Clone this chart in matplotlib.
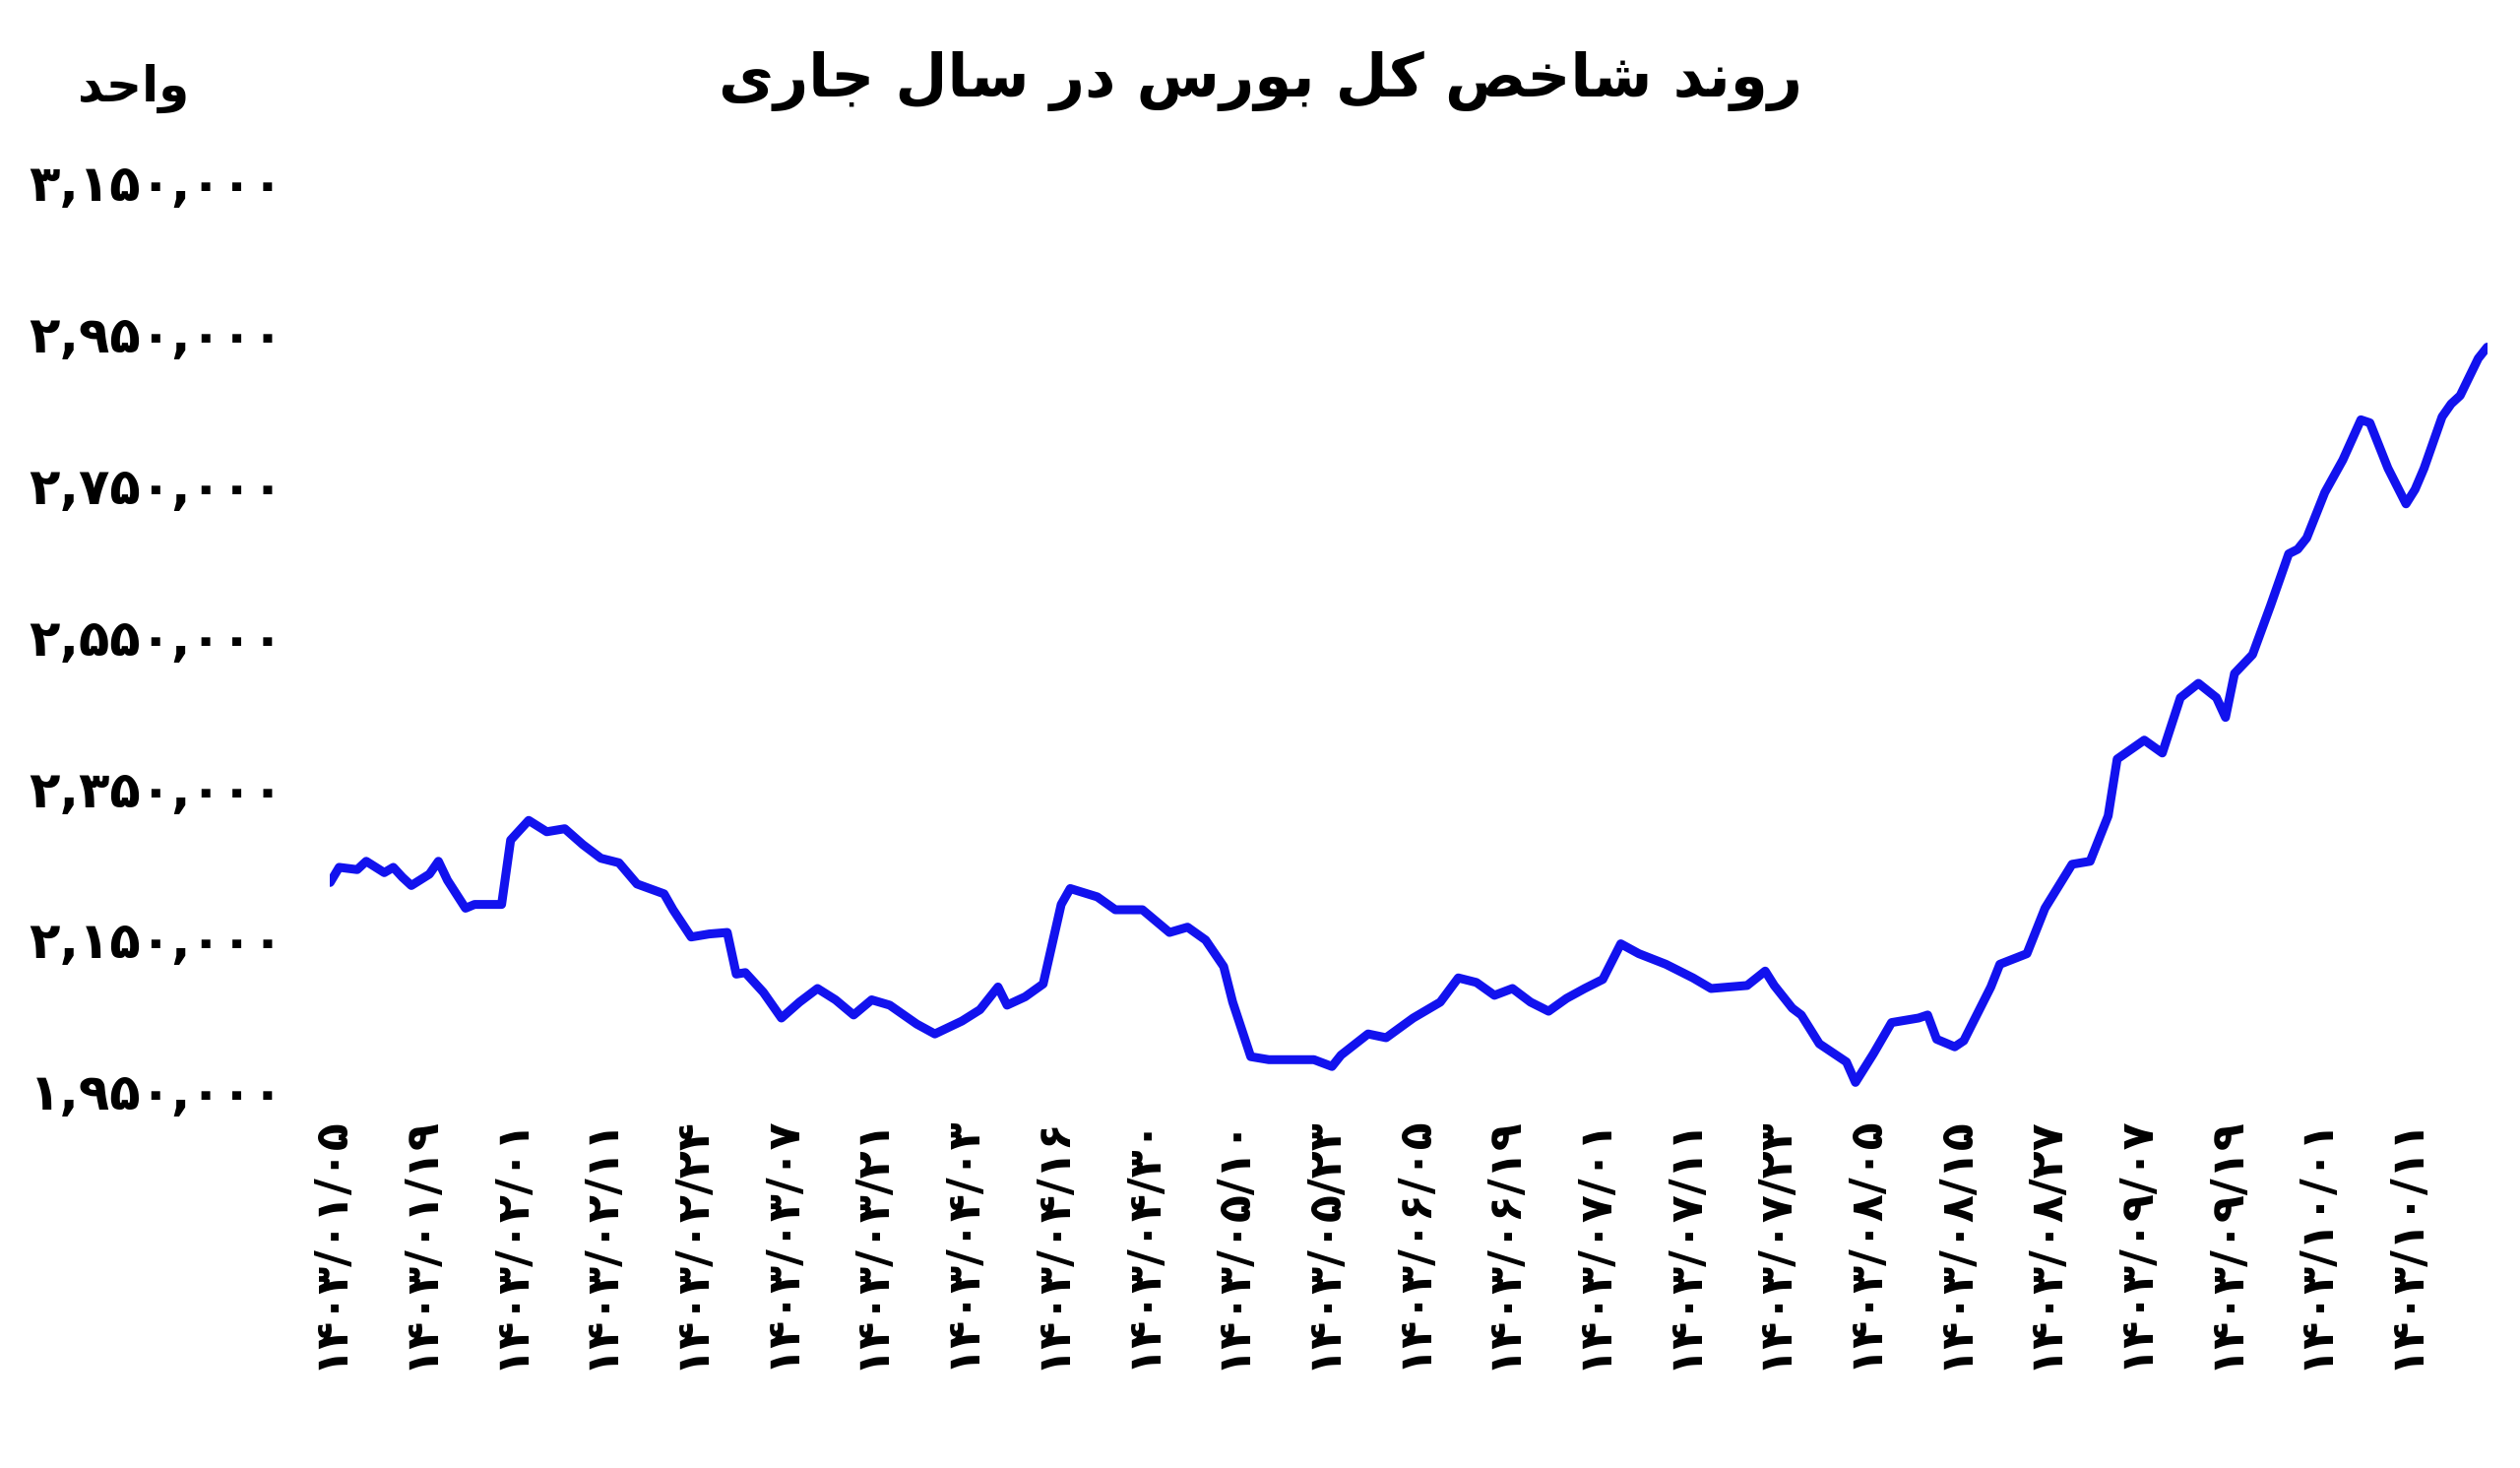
import matplotlib
matplotlib.use("Agg")
import matplotlib.pyplot as plt

plt.rcParams['font.family'] = ['DejaVu Sans', 'Noto Sans']

days = [0,1,3,4,6,7,8,9,11,12,13,15,16,17,19,20,22,24,26,28,30,32,34,37,38,40,42,44,45,46,48,50,52,54,56,58,60,62,65,67,70,72,74,75,77,79,81,82,85,87,90,93,95,97,99,100,102,104,107,109,111,112,115,117,120,123,125,127,129,131,133,135,137,139,141,143,145,148,151,153,157,159,160,162,163,165,168,169,171,173,176,177,178,180,181,184,185,188,190,193,195,197,198,201,203,205,207,209,210,211,213,215,217,218,219,221,223,225,226,228,230,231,232,234,235,236,238,239]
values = [2225000,2245000,2242000,2253000,2238000,2245000,2232000,2221000,2236000,2253000,2228000,2191000,2196000,2196000,2196000,2281000,2307000,2292000,2296000,2275000,2257000,2251000,2223000,2210000,2189000,2153000,2157000,2159000,2104000,2106000,2080000,2046000,2067000,2085000,2070000,2050000,2070000,2063000,2038000,2025000,2042000,2057000,2087000,2063000,2074000,2091000,2196000,2217000,2206000,2189000,2189000,2159000,2166000,2149000,2114000,2067000,1995000,1991000,1991000,1991000,1982000,1997000,2025000,2020000,2046000,2067000,2099000,2093000,2076000,2085000,2067000,2055000,2072000,2085000,2097000,2144000,2131000,2117000,2099000,2085000,2089000,2108000,2089000,2059000,2050000,2012000,1988000,1961000,1999000,2040000,2046000,2050000,2018000,2008000,2016000,2087000,2117000,2131000,2191000,2249000,2253000,2313000,2388000,2413000,2396000,2469000,2488000,2469000,2443000,2501000,2526000,2591000,2659000,2665000,2680000,2740000,2783000,2836000,2832000,2772000,2725000,2744000,2772000,2840000,2857000,2868000,2917000,2932000]

tick_days = list(range(0, 240, 10))
tick_labels = ["1403/01/05","1403/01/19","1403/02/01","1403/02/11","1403/02/24","1403/03/07","1403/03/21","1403/04/03","1403/04/16","1403/04/30","1403/05/10","1403/05/23","1403/06/05","1403/06/19","1403/07/01","1403/07/11","1403/07/23","1403/08/05","1403/08/15","1403/08/27","1403/09/07","1403/09/19","1403/10/01","1403/10/11"]
y_ticks = [1950000,2150000,2350000,2550000,2750000,2950000,3150000]

# visually ordered, pre-shaped Persian text
title = "\uFBFC\uFEAD\uFE8E\uFE9F \uFEDD\uFE8E\uFEB3 \uFEAD\uFEA9 \uFEB1\uFEAD\uFEEE\uFE91 \uFEDE\uFB90 \uFEBA\uFEA7\uFE8E\uFEB7 \uFEAA\uFEE7\uFEED\uFEAD"
unit = "\uFEAA\uFEA3\uFE8D\uFEED"

def fa(s):
    return s.translate(str.maketrans("0123456789", "۰۱۲۳۴۵۶۷۸۹"))

fig = plt.figure(figsize=(25.6, 14.91), dpi=100)
ax = fig.add_axes([0.131, 0.257, 0.856, 0.619])
ax.plot(days, values, color="#1212ee", lw=6.5, solid_capstyle="round", solid_joinstyle="round")
ax.set_xlim(0, 239)
ax.set_ylim(1950000, 3150000)
for s in ax.spines.values():
    s.set_visible(False)
ax.set_yticks(y_ticks)
ax.set_yticklabels([fa(f"{v:,}") for v in y_ticks], fontsize=37, fontweight="bold")
ax.set_xticks(tick_days)
ax.set_xticklabels([fa(t) for t in tick_labels], rotation=90, fontsize=33, fontweight="bold")
ax.tick_params(axis="y", length=0, pad=34)
ax.tick_params(axis="x", length=0, pad=18)
fig.text(0.5, 0.945, title, ha="center", va="center", fontsize=44, fontweight="bold")
fig.text(0.053, 0.94, unit, ha="center", va="center", fontsize=36, fontweight="bold")
fig.savefig("out.png")
